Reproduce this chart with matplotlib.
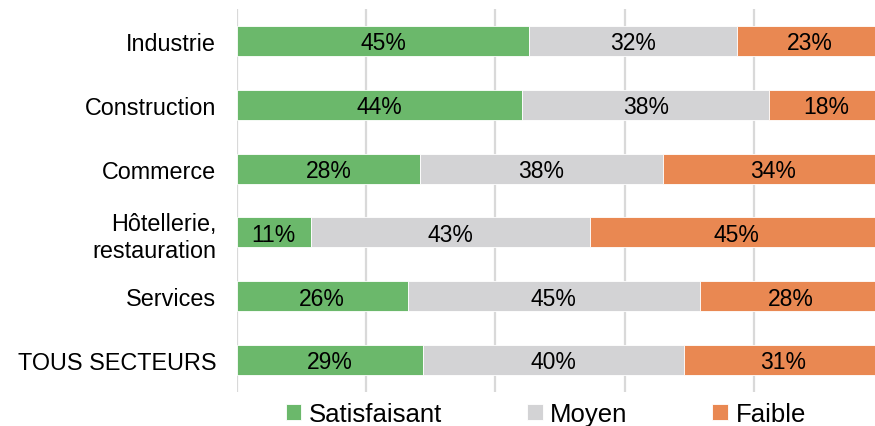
import matplotlib
matplotlib.use("Agg")
import matplotlib.pyplot as plt
import numpy as np

plt.rcParams['font.family'] = ['Liberation Sans', 'DejaVu Sans']

# données (en %)
secteurs = ["Industrie", "Construction", "Commerce", "Hôtellerie,\nrestauration",
            "Services", "TOUS SECTEURS"]
satisfaisant = [45.2, 44.1, 28.4, 11.4, 26.4, 28.8]
moyen = [32.2, 38.3, 37.5, 43.2, 45.2, 40.4]
faible = [22.6, 17.6, 34.1, 45.4, 28.4, 30.8]
series = ["Satisfaisant", "Moyen", "Faible"]
couleurs = ["#6BB86B", "#D3D3D5", "#E98852"]

W, H = 875, 427
fig = plt.figure(figsize=(W / 100, H / 100), dpi=100)
ax = fig.add_axes([237 / W, (H - 393) / H, 646 / W, 383 / H])

y = np.arange(len(secteurs))
gauche = np.zeros(len(secteurs))
for nom, vals, c in zip(series, [satisfaisant, moyen, faible], couleurs):
    vals = np.array(vals)
    ax.barh(y, vals, left=gauche, height=0.47, color=c, label=nom,
            edgecolor="white", linewidth=0.6, zorder=2)
    for yi, l, v in zip(y, gauche, vals):
        ax.text(l + v / 2, yi + 0.03, f"{v:.0f}%", ha="center", va="center",
                fontsize=16.5, color="black", zorder=3)
    gauche += vals

ax.set_xlim(0, 100)
ax.set_ylim(len(secteurs) - 0.5, -0.5)
ax.set_xticks([0, 20, 40, 60, 80, 100])
ax.set_xticklabels([])
ax.set_yticks(y)
ax.set_yticklabels(secteurs, fontsize=16.8, ha="right")
ax.tick_params(axis="both", length=0)
ax.tick_params(axis="y", pad=15)
ax.grid(axis="x", color="#D9D9D9", linewidth=1.6, zorder=0)
ax.set_axisbelow(True)
for s in ax.spines.values():
    s.set_visible(False)

fig.legend(loc="center", bbox_to_anchor=(546 / W, 1 - 415 / H), ncol=3,
           frameon=False, fontsize=18.5, handlelength=0.6, handleheight=0.6,
           handletextpad=0.3, columnspacing=3.3)

fig.savefig("out.png", dpi=100)
